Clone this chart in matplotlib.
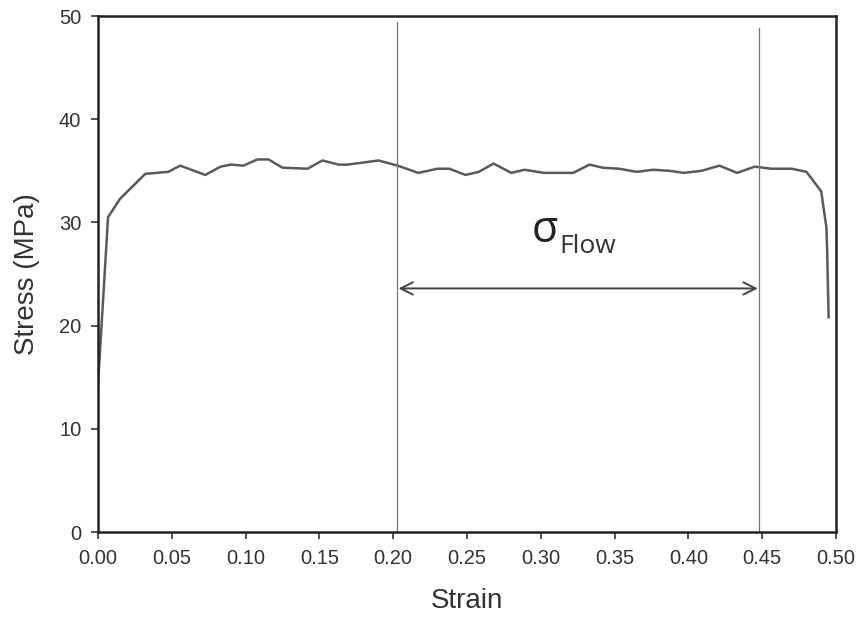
import matplotlib
matplotlib.use("Agg")
import matplotlib.pyplot as plt

plt.rcParams['font.family'] = ['Liberation Sans', 'DejaVu Sans']

strain = [0.0, 0.0068, 0.015, 0.032, 0.0476, 0.0557, 0.0727, 0.083, 0.09, 0.0985,
          0.108, 0.1155, 0.125, 0.142, 0.152, 0.163, 0.169, 0.19, 0.203, 0.217,
          0.23, 0.238, 0.249, 0.258, 0.268, 0.28, 0.289, 0.302, 0.322, 0.333,
          0.342, 0.353, 0.365, 0.376, 0.387, 0.397, 0.409, 0.421, 0.433, 0.445,
          0.456, 0.47, 0.48, 0.49, 0.4935, 0.494, 0.495]
stress = [14.3, 30.5, 32.3, 34.7, 34.9, 35.5, 34.6, 35.4, 35.6, 35.5,
          36.1, 36.1, 35.3, 35.2, 36.0, 35.6, 35.6, 36.0, 35.5, 34.8,
          35.2, 35.2, 34.6, 34.9, 35.7, 34.8, 35.1, 34.8, 34.8, 35.6,
          35.3, 35.2, 34.9, 35.1, 35.0, 34.8, 35.0, 35.5, 34.8, 35.4,
          35.2, 35.2, 34.9, 33.0, 29.5, 27.3, 20.8]

flow_start = 0.2026
flow_end = 0.448
flow_line_tops = [49.4, 48.8]
arrow_y = 23.6
x_ticks = [0.00, 0.05, 0.10, 0.15, 0.20, 0.25, 0.30, 0.35, 0.40, 0.45, 0.50]
y_ticks = [0, 10, 20, 30, 40, 50]

fig = plt.figure(figsize=(8.6, 6.21), dpi=100)
ax = fig.add_axes([98/860, 89/621, 738/860, 516/621])

ax.plot(strain, stress, color='#5a5a5a', lw=1.8, solid_joinstyle='round')

ax.plot([flow_start, flow_start], [0, flow_line_tops[0]], color='#777777', lw=0.9)
ax.plot([flow_end, flow_end], [0, flow_line_tops[1]], color='#777777', lw=0.9)

ax.annotate('', xy=(flow_start + 0.001, arrow_y), xytext=(flow_end - 0.001, arrow_y),
            arrowprops=dict(arrowstyle='<->', color='#444444', lw=1.4,
                            mutation_scale=22, shrinkA=0, shrinkB=0))

ax.text(0.3025, 28.1, 'σ', fontsize=31, color='#222222', ha='center', va='baseline',
        family=['Open Sans', 'DejaVu Sans'])
ax.text(0.3125, 27.0, 'Flow', fontsize=19, color='#333333', ha='left', va='baseline',
        family=['Open Sans', 'DejaVu Sans'])

ax.set_xlim(0, 0.5)
ax.set_ylim(0, 50)
ax.set_xticks(x_ticks)
ax.set_xticklabels([f'{t:.2f}' for t in x_ticks])
ax.set_yticks(y_ticks)
ax.set_yticklabels([str(t) for t in y_ticks])
ax.tick_params(direction='out', length=5, width=1.2, labelsize=14.5,
               colors='#333333', pad=7, top=False, right=False)
for s in ax.spines.values():
    s.set_linewidth(1.8)
    s.set_color('#222222')

ax.set_xlabel('Strain', fontsize=20, color='#333333', labelpad=15)
ax.set_ylabel('Stress (MPa)', fontsize=20, color='#333333', labelpad=14)

fig.savefig('out.png', dpi=100, facecolor='white')
